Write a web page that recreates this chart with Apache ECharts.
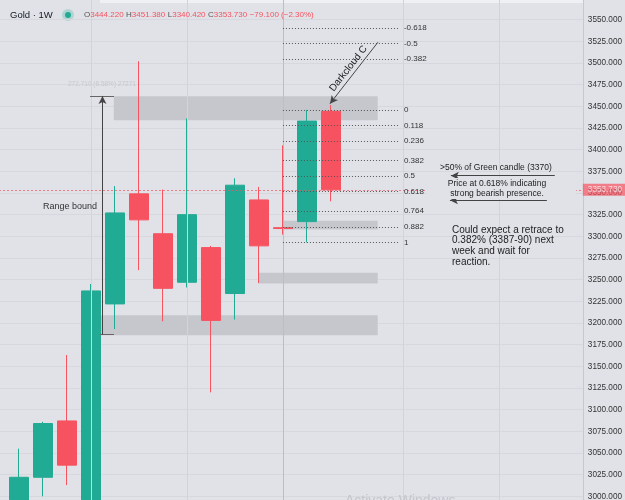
<!DOCTYPE html>
<html>
<head>
<meta charset="utf-8">
<script src="https://cdn.jsdelivr.net/npm/echarts@6/dist/echarts.min.js"></script>
<style>
  html, body { margin: 0; padding: 0; background: #e0e2e8; overflow: hidden; width: 625px; height: 500px; }
  /* the plot runs a little past the window edges, like the cropped screenshot */
  #main { position: absolute; left: -17px; top: -2px; width: 642px; height: 520px; }
</style>
</head>
<body>
<div id="main"></div>
<script>
// Gold 1W - weekly slots (first one is off-screen, the last ten are still empty)
const weeks = ['2025-03-10', '2025-03-17', '2025-03-24', '2025-03-31', '2025-04-07', '2025-04-14',
  '2025-04-21', '2025-04-28', '2025-05-05', '2025-05-12', '2025-05-19', '2025-05-26', '2025-06-02',
  '2025-06-09', '2025-06-16', '2025-06-23', '2025-06-30', '2025-07-07', '2025-07-14', '2025-07-21',
  '2025-07-28', '2025-08-04', '2025-08-11', '2025-08-18', '2025-08-25']

// candles (starting at 2025-03-17)
const opens  = [2985, 3022, 3087, 2980, 3222, 3349, 3303, 3247, 3287, 3234, 3342, 3310, 3317, 3444.22]
const closes = [3022, 3084, 3036, 3237, 3327, 3319, 3240, 3325, 3203, 3359, 3289, 3309, 3433, 3353.73]
const lows   = [2975, 3000, 3013, 2960, 3193, 3261, 3202, 3241, 3120, 3204, 3246, 3302, 3293, 3340.42]
const highs  = [3055, 3086, 3163, 3245, 3358, 3502, 3354, 3436, 3289, 3367, 3357, 3405, 3446, 3451.38]

// fibonacci retracement drawn on the 2025-06-09 candle
const fibLevels = [-0.618, -0.5, -0.382, 0, 0.118, 0.236, 0.382, 0.5, 0.618, 0.764, 0.882, 1]
const fibCandle = 12

// supply / demand zones (x in candle index units, y in price)
const zoneFrom = [3.95, 11, 10, 3.375]
const zoneTo   = [14.95, 14.95, 14.95, 14.95]
const zoneLow  = [3434, 3308, 3245.5, 3186]
const zoneHigh = [3461.5, 3318, 3258, 3209]

// month grid lines (candle index units)
const monthLines = [3, 7, 11, 16, 20]

const UP = '#22ab94'
const DOWN = '#f7525f'
const BG = '#e0e2e8'
const FONT = 'Liberation Sans, Arial, sans-serif'
const OX = 17, OY = 2 // chart div offset vs. the window

let myChart = echarts.init(document.getElementById('main'))

const candleData = weeks.map((w, i) => {
  const k = i - 1
  if (k < 0 || k >= opens.length) return '-'
  return [opens[k], closes[k], lows[k], highs[k]]
})

const last = opens.length - 1
const fibHi = highs[fibCandle]
const fibLo = lows[fibCandle]

const fibLines = fibLevels.map(l => {
  const p = fibHi - l * (fibHi - fibLo)
  return [
    { coord: [fibCandle - 1, p], label: { formatter: String(l) } },
    { coord: [15.875, p] }
  ]
})

const zoneAreas = zoneFrom.map((f, i) => [
  { coord: [f, zoneHigh[i]] },
  { coord: [zoneTo[i], zoneLow[i]] }
])

const gridLines = monthLines.map(m => ({
  xAxis: m,
  lineStyle: { color: m === fibCandle - 1 ? '#bcbec5' : '#d2d4da' }
}))

// small helper for free text placed in window pixels
const txt = (x, y, text, style) => ({
  type: 'text', x: x + OX, y: y + OY, silent: true, z: 20,
  style: Object.assign({ text, fill: '#222', font: '9px ' + FONT, verticalAlign: 'middle', textVerticalAlign: 'middle' }, style)
})

const option = {
  backgroundColor: BG,
  animation: false,
  textStyle: { fontFamily: FONT },
  grid: { left: 0, right: 42, top: 0, bottom: 0 },
  xAxis: [
    {
      type: 'category', data: weeks, boundaryGap: true,
      axisLine: { show: false }, axisTick: { show: false }, axisLabel: { show: false },
      splitLine: { show: false }
    },
    {
      type: 'value', min: -1.5, max: 23.5, show: false
    }
  ],
  yAxis: {
    type: 'value', position: 'right', min: 2975, max: 3575, interval: 25,
    axisLine: { show: true, onZero: false, lineStyle: { color: '#c6c8ce' } },
    axisTick: { show: false },
    axisLabel: {
      color: '#333', fontSize: 8.2, margin: 5, showMinLabel: false, showMaxLabel: false,
      formatter: v => v.toFixed(3)
    },
    splitLine: { lineStyle: { color: '#d6d8de' } }
  },
  series: [
    {
      type: 'line', xAxisIndex: 1, data: [], z: 1, silent: true,
      markLine: {
        silent: true, symbol: ['none', 'none'], label: { show: false },
        lineStyle: { type: 'solid', width: 1 },
        data: gridLines
      },
      markArea: {
        silent: true,
        itemStyle: { color: '#c5c7cd' },
        data: zoneAreas
      }
    },
    {
      type: 'candlestick', xAxisIndex: 0, data: candleData, barWidth: 19, z: 3,
      itemStyle: { color: UP, color0: DOWN, borderColor: UP, borderColor0: DOWN, borderWidth: 1 },
      markLine: {
        silent: true, symbol: ['none', 'none'],
        lineStyle: { color: DOWN, type: [2, 2], width: 1, opacity: 0.7 },
        label: {
          position: 'end', distance: 0, formatter: p => p.value.toFixed(3),
          backgroundColor: DOWN, color: '#fff', fontSize: 8.2, padding: [2, 4, 2, 5]
        },
        data: [{ yAxis: closes[last] }]
      }
    },
    {
      type: 'line', xAxisIndex: 1, data: [], z: 4, silent: true,
      markLine: {
        silent: true, symbol: ['none', 'none'],
        lineStyle: { color: '#555', type: [1, 2], width: 1 },
        label: { show: true, position: 'end', distance: 4, color: '#333', fontSize: 8, padding: [0, 0, 8, 0] },
        data: fibLines
      }
    },
    {
      type: 'line', xAxisIndex: 1, data: [], z: 5, silent: true,
      markLine: {
        silent: true, symbol: ['none', 'none'],
        lineStyle: { color: '#666', type: 'solid', width: 1 },
        label: { show: false },
        data: [
          [{ coord: [2.96, 3461.5] }, { coord: [3.96, 3461.5] }],
          [{ coord: [3.375, 3186.5] }, { coord: [3.96, 3186.5] }]
        ]
      }
    },
    {
      type: 'line', xAxisIndex: 1, data: [], z: 6, silent: true,
      markLine: {
        silent: true, symbol: ['none', 'arrow'], symbolSize: [6, 8],
        lineStyle: { color: '#444', type: 'solid', width: 1 },
        label: { show: false },
        data: [
          [{ coord: [3.48, 3186.5] }, { coord: [3.48, 3462] }],
          [{ coord: [14.96, 3524], label: { show: true, position: 'middle', distance: 2,
              formatter: 'Darkcloud C', color: '#222', fontSize: 10 } },
           { coord: [12.96, 3453] }],
          [{ coord: [22.33, 3370] }, { coord: [18.0, 3370] }],
          [{ coord: [22.0, 3341.7] }, { coord: [17.96, 3341.7] }]
        ]
      }
    }
  ],
  graphic: [
    { type: 'rect', shape: { x: 100 + OX, y: 0, width: 483, height: 3 + OY }, style: { fill: '#eef0f3' }, silent: true },
    txt(10, 15, 'Gold · 1W', { font: '9.5px ' + FONT, fill: '#131722' }),
    { type: 'circle', shape: { cx: 68 + OX, cy: 15 + OY, r: 6 }, style: { fill: 'rgba(34,171,148,0.25)' } },
    { type: 'circle', shape: { cx: 68 + OX, cy: 15 + OY, r: 3 }, style: { fill: UP } },
    txt(84, 15, '{k|O}{v|3444.220} {k|H}{v|3451.380} {k|L}{v|3340.420} {k|C}{v|3353.730} {v|−79.100 (−2.30%)}', {
      rich: {
        k: { fill: '#555', color: '#555', fontSize: 8, fontFamily: FONT },
        v: { fill: DOWN, color: DOWN, fontSize: 8, fontFamily: FONT }
      }
    }),
    txt(68, 84, '272.710 (8.58%) 27271', { font: '6.5px ' + FONT, fill: '#c6c8ce' }),
    txt(97, 207, 'Range bound', { fill: '#333', align: 'right', textAlign: 'right' }),
    txt(440, 168, '>50% of Green candle (3370)', { font: '8.5px ' + FONT }),
    txt(501, 188.5, 'Price at 0.618% indicating\nstrong bearish presence.', {
      font: '8.5px ' + FONT, lineHeight: 9.5, align: 'center', textAlign: 'center',
      backgroundColor: BG, padding: [1, 30, 1, 22]
    }),
    txt(452, 246, 'Could expect a retrace to\n0.382% (3387-90) next\nweek and wait for\nreaction.', { font: '10px ' + FONT, lineHeight: 10.8 }),
    txt(345, 494, 'Activate Windows', { font: '14px ' + FONT, fill: '#c4c6cc', verticalAlign: 'top', textVerticalAlign: 'top' })
  ]
}

myChart.setOption(option)
window.onresize = () => {
  myChart.resize()
}
</script>
</body>
</html>
